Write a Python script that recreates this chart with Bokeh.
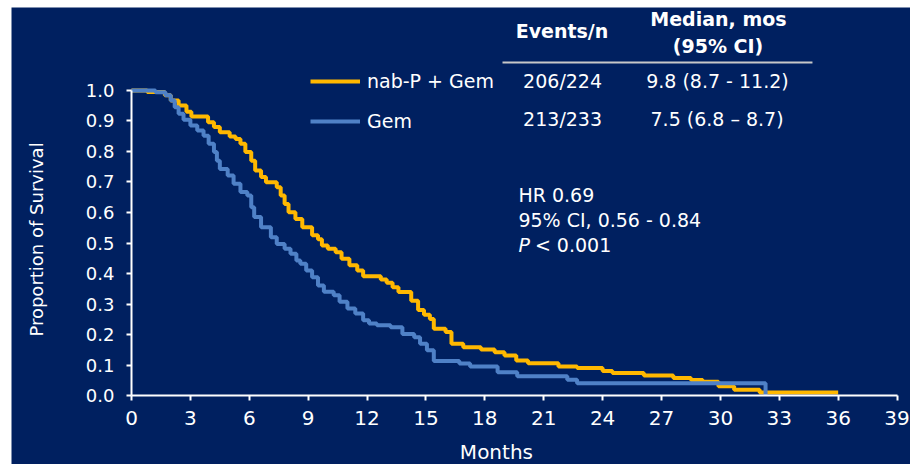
import math
from bokeh.plotting import figure
from bokeh.models import (Range1d, FixedTicker, PrintfTickFormatter, Label, Legend,
                          LegendItem, BoxAnnotation)
from bokeh.embed import file_html
from bokeh.resources import INLINE

# ---------------- data ----------------
series_names = ["nab-P + Gem", "Gem"]

nabp_months = [0, 0.8, 1.7, 2.0, 2.4, 2.8, 3.05, 3.9, 4.2, 4.5, 5.0, 5.3, 5.55, 5.8, 6.1,
               6.3, 6.6, 6.85, 7.4, 7.6, 7.8, 8.0, 8.35, 8.7, 9.2, 9.5, 9.7, 10.0, 10.4,
               10.7, 11.1, 11.5, 11.8, 12.7, 13.0, 13.3, 13.6, 14.25, 14.6, 14.9, 15.2,
               15.4, 16.0, 16.3, 16.9, 17.8, 18.5, 19.0, 19.6, 20.2, 21.75, 22.7, 24.0,
               24.5, 26.1, 27.6, 28.5, 29.1, 29.9, 30.7, 32.0, 36.0]
nabp_surv = [1.0, 0.995, 0.984, 0.967, 0.951, 0.93, 0.915, 0.896, 0.88, 0.863, 0.849,
             0.841, 0.825, 0.798, 0.77, 0.738, 0.716, 0.699, 0.683, 0.656, 0.628, 0.601,
             0.579, 0.552, 0.525, 0.512, 0.492, 0.481, 0.47, 0.448, 0.427, 0.41, 0.391,
             0.38, 0.37, 0.355, 0.339, 0.311, 0.28, 0.265, 0.251, 0.219, 0.208, 0.17,
             0.158, 0.151, 0.142, 0.131, 0.115, 0.106, 0.095, 0.09, 0.08, 0.074, 0.066,
             0.057, 0.051, 0.045, 0.03, 0.019, 0.01, 0.01]

gem_months = [0, 1.22, 1.73, 2.0, 2.2, 2.4, 2.65, 3.0, 3.35, 3.67, 3.93, 4.2, 4.35, 4.5,
              4.9, 5.2, 5.55, 5.9, 6.1, 6.25, 6.6, 7.1, 7.4, 7.8, 8.1, 8.4, 8.6, 8.9, 9.2,
              9.5, 9.8, 10.3, 10.6, 11.0, 11.4, 11.8, 12.1, 12.5, 13.2, 13.8, 14.4, 14.7,
              15.05, 15.4, 16.7, 17.25, 18.65, 19.65, 22.2, 22.7, 32.3]
gem_surv = [1.0, 0.994, 0.984, 0.967, 0.945, 0.924, 0.904, 0.885, 0.869, 0.852, 0.825,
            0.798, 0.77, 0.743, 0.721, 0.694, 0.667, 0.656, 0.617, 0.585, 0.552, 0.519,
            0.497, 0.481, 0.465, 0.443, 0.432, 0.41, 0.388, 0.361, 0.34, 0.329, 0.307,
            0.285, 0.269, 0.247, 0.236, 0.23, 0.224, 0.202, 0.191, 0.17, 0.148, 0.113,
            0.105, 0.095, 0.076, 0.063, 0.052, 0.040, 0.0]

x_ticks = [0, 3, 6, 9, 12, 15, 18, 21, 24, 27, 30, 33, 36, 39]
y_ticks = [0.0, 0.1, 0.2, 0.3, 0.4, 0.5, 0.6, 0.7, 0.8, 0.9, 1.0]
x_title = "Months"
y_title = "Proportion of Survival"

table_header = ["Events/n", "Median, mos", "(95% CI)"]
events = ["206/224", "213/233"]
medians = ["9.8 (8.7 - 11.2)", "7.5 (6.8 \u2013 8.7)"]
stats_lines = ["HR 0.69", "95% CI, 0.56 - 0.84"]
p_symbol = "P"
p_value = "< 0.001"

# ---------------- style ----------------
NAVY = "#002060"
GOLD = "#FFB800"
BLUE = "#4F81C7"
WHITE = "#FFFFFF"
FONT = "DejaVu Sans"

p = figure(width=899, height=457, margin=(7, 0, 0, 11), output_backend="svg",
           toolbar_location=None, title=None,
           x_range=Range1d(-6.113, 39.684), y_range=Range1d(-0.2262, 1.2721),
           min_border_left=0, min_border_bottom=0, min_border_top=0, min_border_right=0,
           background_fill_color=NAVY, border_fill_color=NAVY, outline_line_color=None)
p.grid.visible = False

r_nab = p.step(nabp_months, nabp_surv, mode="after", line_color=GOLD, line_width=4)
r_gem = p.step(gem_months, gem_surv, mode="after", line_color=BLUE, line_width=4)

for ax in (p.xaxis[0], p.yaxis[0]):
    ax.fixed_location = 0
    ax.axis_line_color = WHITE
    ax.axis_line_width = 2
    ax.major_tick_line_color = WHITE
    ax.major_tick_line_width = 2
    ax.major_tick_in = 0
    ax.major_tick_out = 5
    ax.minor_tick_line_color = None
    ax.major_label_text_color = WHITE
    ax.major_label_text_font = FONT

xa = p.xaxis[0]
xa.ticker = FixedTicker(ticks=x_ticks)
xa.bounds = (0, 39)
xa.major_label_text_font_size = "20px"
xa.major_label_standoff = 10

ya = p.yaxis[0]
ya.ticker = FixedTicker(ticks=y_ticks)
ya.bounds = (0, 1)
ya.formatter = PrintfTickFormatter(format="%.1f")
ya.major_label_text_font_size = "18px"
ya.major_label_standoff = 12

DY = 0.023  # baseline correction for text labels


def lab(x, y, text, align="center", style="normal", size="19px", baseline="alphabetic",
        angle=0.0):
    p.add_layout(Label(x=x, y=y, text=text, text_font=FONT, text_font_size=size,
                       text_font_style=style, text_color=WHITE, text_align=align,
                       text_baseline=baseline, angle=angle))


# axis titles
lab(18.59, -0.2098 + DY, x_title, size="20px")
lab(-4.84, 0.5115, y_title, size="18px", baseline="middle", angle=math.pi / 2)

# legend
legend = Legend(items=[LegendItem(label=series_names[0], renderers=[r_nab]),
                       LegendItem(label=series_names[1], renderers=[r_gem])],
                location=(299, 331), orientation="vertical",
                background_fill_alpha=0, border_line_color=None,
                padding=0, margin=0, spacing=16, glyph_width=50, glyph_height=24,
                label_height=24, label_standoff=7,
                label_text_font=FONT, label_text_font_size="19px", label_text_color=WHITE)
p.add_layout(legend)

# table
lab(21.93, 1.1705 + DY, table_header[0], style="bold")
lab(29.90, 1.2098 + DY, table_header[1], style="bold")
lab(29.88, 1.123 + DY, table_header[2], style="bold")
p.add_layout(BoxAnnotation(left=18.9, right=34.69, bottom=1.0885, top=1.0951,
                           fill_color="#C8C8C8", fill_alpha=1, line_color=None))
lab(21.96, 1.0066 + DY, events[0])
lab(29.85, 1.0066 + DY, medians[0])
lab(21.96, 0.885 + DY, events[1])
lab(29.83, 0.885 + DY, medians[1])

# statistics
lab(19.71, 0.633 + DY, stats_lines[0], align="left")
lab(19.71, 0.551 + DY, stats_lines[1], align="left")
lab(19.71, 0.469 + DY, p_symbol, align="left", style="italic")
lab(20.55, 0.469 + DY, p_value, align="left")

open("out.html", "w").write(file_html(p, INLINE))
